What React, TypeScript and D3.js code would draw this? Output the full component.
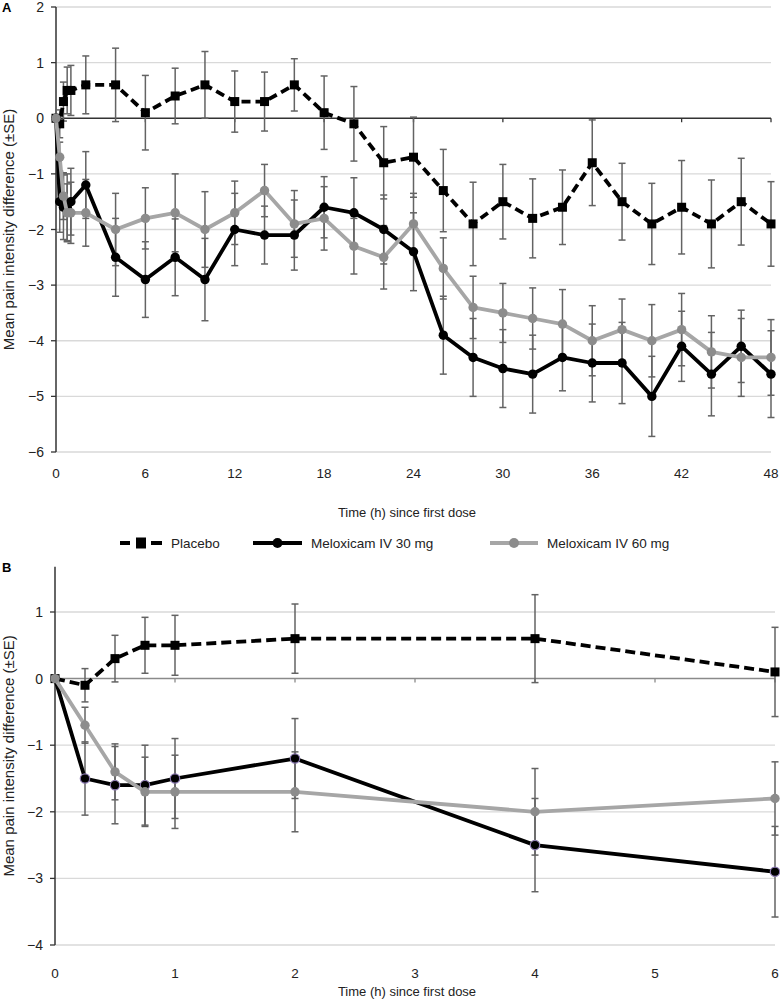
import React from 'react';
import * as d3 from 'd3';

// ---- Data ----
const timesA = [0, 0.25, 0.5, 0.75, 1, 2, 4, 6, 8, 10, 12, 14, 16, 18, 20, 22, 24, 26, 28, 30, 32, 34, 36, 38, 40, 42, 44, 46, 48];

const placebo = [0, -0.1, 0.3, 0.5, 0.5, 0.6, 0.6, 0.1, 0.4, 0.6, 0.3, 0.3, 0.6, 0.1, -0.1, -0.8, -0.7, -1.3, -1.9, -1.5, -1.8, -1.6, -0.8, -1.5, -1.9, -1.6, -1.9, -1.5, -1.9];
const placeboSE = [0, 0.25, 0.35, 0.42, 0.45, 0.52, 0.66, 0.67, 0.5, 0.6, 0.55, 0.53, 0.47, 0.66, 0.67, 0.65, 0.72, 0.74, 0.75, 0.67, 0.71, 0.67, 0.77, 0.69, 0.73, 0.84, 0.79, 0.78, 0.76];

const mel30 = [0, -1.5, -1.6, -1.6, -1.5, -1.2, -2.5, -2.9, -2.5, -2.9, -2.0, -2.1, -2.1, -1.6, -1.7, -2.0, -2.4, -3.9, -4.3, -4.5, -4.6, -4.3, -4.4, -4.4, -5.0, -4.1, -4.6, -4.1, -4.6];
const mel30SE = [0, 0.55, 0.58, 0.6, 0.6, 0.6, 0.7, 0.68, 0.69, 0.74, 0.65, 0.52, 0.63, 0.55, 0.63, 0.62, 0.7, 0.7, 0.7, 0.7, 0.7, 0.6, 0.7, 0.73, 0.72, 0.63, 0.75, 0.65, 0.78];

const mel60 = [0, -0.7, -1.4, -1.7, -1.7, -1.7, -2.0, -1.8, -1.7, -2.0, -1.7, -1.3, -1.9, -1.8, -2.3, -2.5, -1.9, -2.7, -3.4, -3.5, -3.6, -3.7, -4.0, -3.8, -4.0, -3.8, -4.2, -4.3, -4.3];
const mel60SE = [0, 0.27, 0.42, 0.52, 0.55, 0.6, 0.65, 0.55, 0.7, 0.68, 0.57, 0.47, 0.6, 0.57, 0.5, 0.57, 0.55, 0.55, 0.56, 0.53, 0.55, 0.62, 0.63, 0.55, 0.65, 0.65, 0.65, 0.7, 0.68];

const seriesNames = ['Placebo', 'Meloxicam IV 30 mg', 'Meloxicam IV 60 mg'];

const xTicksA = [0, 6, 12, 18, 24, 30, 36, 42, 48];
const yTicksA = [-6, -5, -4, -3, -2, -1, 0, 1, 2];
const xTicksB = [0, 1, 2, 3, 4, 5, 6];
const yTicksB = [-4, -3, -2, -1, 0, 1];

const xTitle = 'Time (h) since first dose';
const yTitle = 'Mean pain intensity difference (±SE)';

const FONT = "'Liberation Sans', Arial, Helvetica, sans-serif";
const GRID = '#d9d9d9';
const ERR = '#636363';
const GRAY_LINE = '#a6a6a6';
const GRAY_MARK = '#8c8c8c';

const fmt = (v: number) => (v < 0 ? '\u2212' + Math.abs(v) : String(v));

type PanelProps = {
  letter: string;
  letterY: number;
  times: number[];
  xDomain: [number, number];
  xRange: [number, number];
  yDomain: [number, number];
  yRange: [number, number];
  axisTopValue: number;
  xTicks: number[];
  yTicks: number[];
  tickLabelY: number;
  titleY: number;
  zeroColor: string;
  dash: string;
  lineW: number;
  r: number;
  sq: number;
  purpleRing: boolean;
};

function Panel(p: PanelProps) {
  const n = p.times.length;
  const x = d3.scaleLinear().domain(p.xDomain).range(p.xRange);
  const y = d3.scaleLinear().domain(p.yDomain).range(p.yRange);
  const pts = (vals: number[]) => p.times.map((t, i) => [t, vals[i]] as [number, number]);
  const line = d3.line<[number, number]>().x(d => x(d[0])).y(d => y(d[1]));

  const series = [
    { vals: placebo.slice(0, n), se: placeboSE.slice(0, n) },
    { vals: mel30.slice(0, n), se: mel30SE.slice(0, n) },
    { vals: mel60.slice(0, n), se: mel60SE.slice(0, n) },
  ];

  const x0 = p.xRange[0];
  const x1 = p.xRange[1];
  const yTop = y(p.axisTopValue);
  const yBot = y(p.yDomain[0]);
  const yZero = y(0);
  const cap = 3.5;

  return (
    <g>
      <text x={2} y={p.letterY} fontFamily={FONT} fontWeight="bold" fontSize={13} fill="#000">{p.letter}</text>
      {p.yTicks.filter(v => v !== 0).map(v => (
        <line key={'g' + v} x1={x0} x2={x1} y1={y(v)} y2={y(v)} stroke={GRID} strokeWidth={1.3} />
      ))}
      <line x1={x0} x2={x1} y1={yZero} y2={yZero} stroke={p.zeroColor} strokeWidth={1.5} />
      {p.xTicks.map(t => (
        <line key={'xt' + t} x1={x(t)} x2={x(t)} y1={yZero} y2={yZero + 4} stroke={p.zeroColor} strokeWidth={1.3} />
      ))}
      <line x1={x0} x2={x0} y1={yTop} y2={yBot} stroke="#333" strokeWidth={1.5} />
      {p.yTicks.map(v => (
        <g key={'yt' + v}>
          <line x1={x0 - 5} x2={x0} y1={y(v)} y2={y(v)} stroke="#333" strokeWidth={1.3} />
          <text x={x0 - 12} y={y(v) + 5} textAnchor="end" fontFamily={FONT} fontSize={14} fill="#222">{fmt(v)}</text>
        </g>
      ))}
      {p.xTicks.map(t => (
        <text key={'xl' + t} x={x(t)} y={p.tickLabelY} textAnchor="middle" fontFamily={FONT} fontSize={13.5} fill="#222">{t}</text>
      ))}
      <text x={407} y={p.titleY} textAnchor="middle" fontFamily={FONT} fontSize={13} fill="#222">{xTitle}</text>
      <text transform={`translate(14,${(yTop + yBot) / 2}) rotate(-90)`} textAnchor="middle" fontFamily={FONT} fontSize={15} fill="#222">{yTitle}</text>

      {series.map((s, si) =>
        p.times.map((t, i) => {
          if (s.se[i] <= 0) return null;
          const cx = x(t);
          const hi = y(s.vals[i] + s.se[i]);
          const lo = y(s.vals[i] - s.se[i]);
          return (
            <g key={`e${si}-${i}`} stroke={ERR} strokeWidth={1.5}>
              <line x1={cx} x2={cx} y1={hi} y2={lo} />
              <line x1={cx - cap} x2={cx + cap} y1={hi} y2={hi} />
              <line x1={cx - cap} x2={cx + cap} y1={lo} y2={lo} />
            </g>
          );
        })
      )}

      <path d={line(pts(series[0].vals)) || ''} fill="none" stroke="#000" strokeWidth={p.lineW} strokeDasharray={p.dash} />
      {p.times.map((t, i) => (
        <rect key={'ps' + i} x={x(t) - p.sq / 2} y={y(series[0].vals[i]) - p.sq / 2} width={p.sq} height={p.sq} fill="#000" />
      ))}
      <path d={line(pts(series[1].vals)) || ''} fill="none" stroke="#000" strokeWidth={p.lineW} strokeLinejoin="round" />
      {p.times.map((t, i) => (
        <circle key={'m30' + i} cx={x(t)} cy={y(series[1].vals[i])} r={p.r} fill="#000"
          stroke={p.purpleRing && i > 0 ? '#8a78b0' : 'none'} strokeWidth={1.2} />
      ))}
      <path d={line(pts(series[2].vals)) || ''} fill="none" stroke={GRAY_LINE} strokeWidth={p.lineW} strokeLinejoin="round" />
      {p.times.map((t, i) => (
        <circle key={'m60' + i} cx={x(t)} cy={y(series[2].vals[i])} r={p.r} fill={GRAY_MARK} />
      ))}
    </g>
  );
}

function Legend() {
  const ly = 543;
  return (
    <g fontFamily={FONT} fontSize={13.5} fill="#222">
      <line x1={120} x2={130} y1={ly} y2={ly} stroke="#000" strokeWidth={4} />
      <rect x={136} y={ly - 5.5} width={10} height={11} fill="#000" />
      <line x1={151} x2={162} y1={ly} y2={ly} stroke="#000" strokeWidth={4} />
      <text x={171} y={ly + 5}>{seriesNames[0]}</text>

      <line x1={253} x2={302} y1={ly} y2={ly} stroke="#000" strokeWidth={4} />
      <circle cx={277.5} cy={ly} r={5} fill="#000" />
      <text x={311} y={ly + 5}>{seriesNames[1]}</text>

      <line x1={490} x2={538} y1={ly} y2={ly} stroke={GRAY_LINE} strokeWidth={4} />
      <circle cx={514} cy={ly} r={5} fill={GRAY_MARK} />
      <text x={547} y={ly + 5}>{seriesNames[2]}</text>
    </g>
  );
}

export default function App() {
  const timesB = timesA.filter(t => t <= 6);
  return (
    <svg width={780} height={1000} viewBox="0 0 780 1000"
      style={{ position: 'absolute', left: 0, top: 0, background: '#fff' }}>
      <rect width={780} height={1000} fill="#fff" />
      <Panel letter="A" letterY={12} times={timesA} xDomain={[0, 48]} xRange={[56, 771]}
        yDomain={[-6, 2]} yRange={[452, 7]} axisTopValue={2} xTicks={xTicksA} yTicks={yTicksA}
        tickLabelY={478} titleY={516.5} zeroColor="#333" dash="9,5" lineW={3.8} r={4.7} sq={9}
        purpleRing={false} />
      <Legend />
      <Panel letter="B" letterY={572} times={timesB} xDomain={[0, 6]} xRange={[55, 775]}
        yDomain={[-4, 1]} yRange={[945, 612]} axisTopValue={1.68} xTicks={xTicksB} yTicks={yTicksB}
        tickLabelY={978} titleY={996} zeroColor="#8a8a8a" dash="10,5" lineW={3.8} r={4.7} sq={9}
        purpleRing={true} />
    </svg>
  );
}
